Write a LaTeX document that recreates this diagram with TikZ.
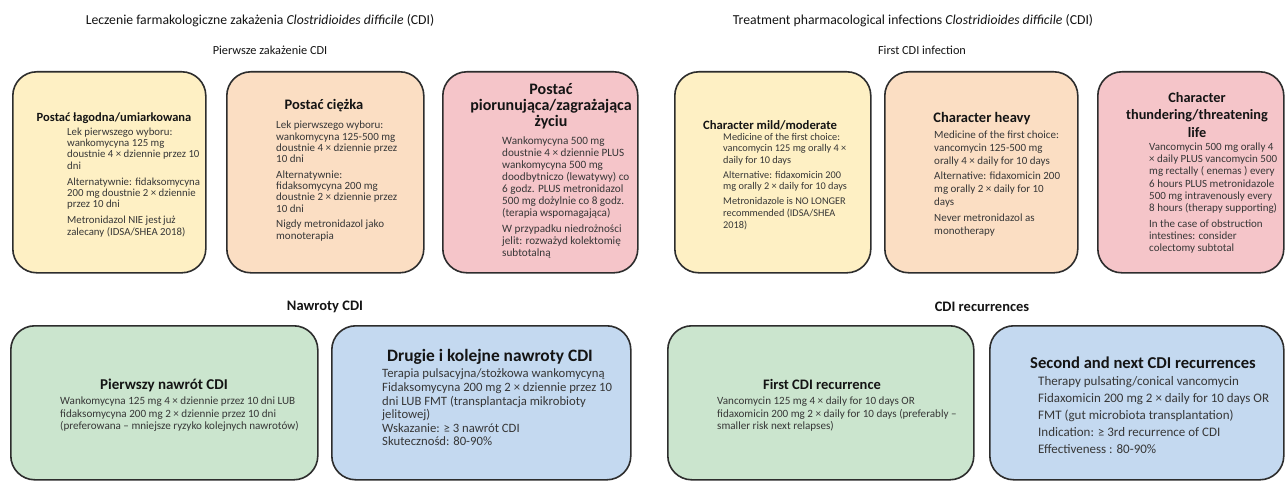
\documentclass[tikz,border=0pt]{standalone}
\usepackage{fontspec}
\setmainfont{Carlito}
\newcommand{\fsz}[2]{\fontsize{#1}{#2}\selectfont}
\definecolor{yelfill}{RGB}{254,240,196}
\definecolor{peachfill}{RGB}{251,222,195}
\definecolor{pinkfill}{RGB}{245,197,201}
\definecolor{greenfill}{RGB}{203,229,206}
\definecolor{bluefill}{RGB}{196,217,240}
\definecolor{edgecol}{RGB}{45,45,45}
\definecolor{headcol}{RGB}{20,20,20}
\definecolor{bodycol}{RGB}{55,55,55}
\begin{document}
\begin{tikzpicture}[x=1pt,y=-1pt,
  box/.style={draw=edgecol, line width=1.6pt, rounded corners=24pt, anchor=north west, inner sep=0pt},
  head/.style={text=headcol, align=center, inner sep=0pt, anchor=center},
  body/.style={text=bodycol, align=left, inner sep=0pt, anchor=north west},
  lbl/.style={text=headcol, inner sep=0pt, anchor=center}]
\useasboundingbox[fill=white] (0,0) rectangle (1285,481);

% titles
\node[lbl, font=\fsz{13.7}{16}] (t1) at (260,21) {Leczenie farmakologiczne zakażenia \textit{Clostridioides difficile} (CDI)};
\node[lbl, font=\fsz{13.7}{16}] (t2) at (913,21) {Treatment pharmacological infections \textit{Clostridioides difficile} (CDI)};
\node[lbl, font=\fsz{12.3}{14}] (s1) at (270,50) {Pierwsze zakażenie CDI};
\node[lbl, font=\fsz{12.3}{14}] (s2) at (922,50) {First CDI infection};
\node[lbl, font=\bfseries\fsz{14.5}{16}] (r1) at (325,307) {Nawroty CDI};
\node[lbl, font=\bfseries\fsz{14.5}{16}] (r2) at (982,307) {CDI recurrences};

% boxes
\node[box, fill=yelfill, minimum width=193pt, minimum height=201pt] (b1) at (12,71) {};
\node[box, fill=peachfill, minimum width=197pt, minimum height=201pt] (b2) at (226,71) {};
\node[box, fill=pinkfill, minimum width=195pt, minimum height=201pt] (b3) at (442,71) {};
\node[box, fill=yelfill, minimum width=196pt, minimum height=201pt] (b4) at (674,71) {};
\node[box, fill=peachfill, minimum width=193pt, minimum height=201pt] (b5) at (884,71) {};
\node[box, fill=pinkfill, minimum width=186pt, minimum height=201pt] (b6) at (1097,71) {};
\node[box, fill=greenfill, minimum width=307pt, minimum height=154pt] (b7) at (10,325) {};
\node[box, fill=bluefill, minimum width=299pt, minimum height=154pt] (b8) at (331,325) {};
\node[box, fill=greenfill, minimum width=306pt, minimum height=154pt] (b9) at (667,325) {};
\node[box, fill=bluefill, minimum width=294pt, minimum height=154pt] (b10) at (989,325) {};

% box 1
\node[head, font=\bfseries\fsz{12.5}{14}] (h1) at (114,118) {Postać łagodna/umiarkowana};
\node[body, font=\fsz{10.8}{11.3}] (p1) at (67,127.7) {Lek pierwszego wyboru:\\ wankomycyna 125 mg\\ doustnie 4 × dziennie przez 10\\ dni\\[4.7pt] Alternatywnie: fidaksomycyna\\ 200 mg doustnie 2 × dziennie\\ przez 10 dni\\[4.7pt] Metronidazol NIE jest\,już\\ zalecany (IDSA/SHEA 2018)};

% box 2
\node[head, font=\bfseries\fsz{14.5}{16}] (h2) at (324,106) {Postać ciężka};
\node[body, font=\fsz{11}{11.3}] (p2) at (276,121) {Lek pierwszego wyboru:\\ wankomycyna 125-500 mg\\ doustnie 4 × dziennie przez\\ 10 dni\\[4.3pt] Alternatywnie:\\ fidaksomycyna 200 mg\\ doustnie 2 × dziennie przez\\ 10 dni\\[4.3pt] Nigdy metronidazol jako\\ monoterapia};

% box 3
\node[head, font=\bfseries\fsz{16}{16}] (h3) at (551,106) {Postać\\ piorunująca/zagrażająca\\ życiu};
\node[body, font=\fsz{11.2}{12}] (p3) at (502,136.5) {Wankomycyna 500 mg\\ doustnie 4 × dziennie PLUS\\ wankomycyna 500 mg\\ doodbytniczo (lewatywy) co\\ 6 godz. PLUS metronidazol\\ 500 mg dożylnie co 8 godz.\\ (terapia wspomagająca)\\[4pt] W przypadku niedrożności\\ jelit: rozważyd kolektomię\\ subtotalną};

% box 4
\node[head, font=\bfseries\fsz{12.7}{14}] (h4) at (770,125) {Character mild/moderate};
\node[body, font=\fsz{10.3}{11.6}] (p4) at (723,132.9) {Medicine of the first choice:\\ vancomycin 125 mg orally 4 ×\\ daily for 10 days\\[3.3pt] Alternative: fidaxomicin 200\\ mg orally 2 × daily for 10 days\\[3.3pt] Metronidazole is NO LONGER\\ recommended (IDSA/SHEA\\ 2018)};

% box 5
\node[head, font=\bfseries\fsz{14.5}{16}] (h5) at (982,119) {Character heavy};
\node[body, font=\fsz{11}{13}] (p5) at (934,130.6) {Medicine of the first choice:\\ vancomycin 125-500 mg\\ orally 4 × daily for 10 days\\[2.5pt] Alternative: fidaxomicin 200\\ mg orally 2 × daily for 10\\ days\\[2.5pt] Never metronidazol as\\ monotherapy};

% box 6
\node[head, font=\bfseries\fsz{14.3}{17.5}] (h6) at (1197,115) {Character\\ thundering/threatening\\ life};
\node[body, font=\fsz{11}{12.3}] (p6) at (1149,142.5) {Vancomycin 500 mg orally 4\\ × daily PLUS vancomycin 500\\ mg rectally ( enemas ) every\\ 6 hours PLUS metronidazole\\ 500 mg intravenously every\\ 8 hours (therapy supporting)\\[3pt] In the case of obstruction\\ intestines: consider\\ colectomy subtotal};

% box 7
\node[head, font=\bfseries\fsz{15}{17}] (h7) at (164,385) {Pierwszy nawrót CDI};
\node[body, font=\fsz{11.1}{12.5}] (p7) at (60,396.6) {Wankomycyna 125 mg 4 × dziennie przez 10 dni LUB\\ fidaksomycyna 200 mg 2 × dziennie przez 10 dni\\ (preferowana – mniejsze ryzyko kolejnych nawrotów)};

% box 8
\node[head, font=\bfseries\fsz{17.4}{19}] (h8) at (490,357) {Drugie i kolejne nawroty CDI};
\node[body, font=\fsz{12.7}{13.6}] (p8) at (382,368.8) {Terapia pulsacyjna/stożkowa wankomycyną\\ Fidaksomycyna 200 mg 2 × dziennie przez 10\\ dni LUB FMT (transplantacja mikrobioty\\ jelitowej)\\ Wskazanie: ≥ 3 nawrót CDI\\ Skutecznośd: 80-90\%};

% box 9
\node[head, font=\bfseries\fsz{14.5}{16}] (h9) at (822,384) {First CDI recurrence};
\node[body, font=\fsz{11.1}{12.5}] (p9) at (717,396.6) {Vancomycin 125 mg 4 × daily for 10 days OR\\ fidaxomicin 200 mg 2 × daily for 10 days (preferably –\\ smaller risk next relapses)};

% box 10
\node[head, font=\bfseries\fsz{16.6}{18}] (h10) at (1143,363) {Second and next CDI recurrences};
\node[body, font=\fsz{13}{16.8}] (p10) at (1038,376.6) {Therapy pulsating/conical vancomycin\\ Fidaxomicin 200 mg 2 × daily for 10 days OR\\ FMT (gut microbiota transplantation)\\ Indication: ≥ 3rd recurrence of CDI\\ Effectiveness : 80-90\%};
\end{tikzpicture}
\end{document}
